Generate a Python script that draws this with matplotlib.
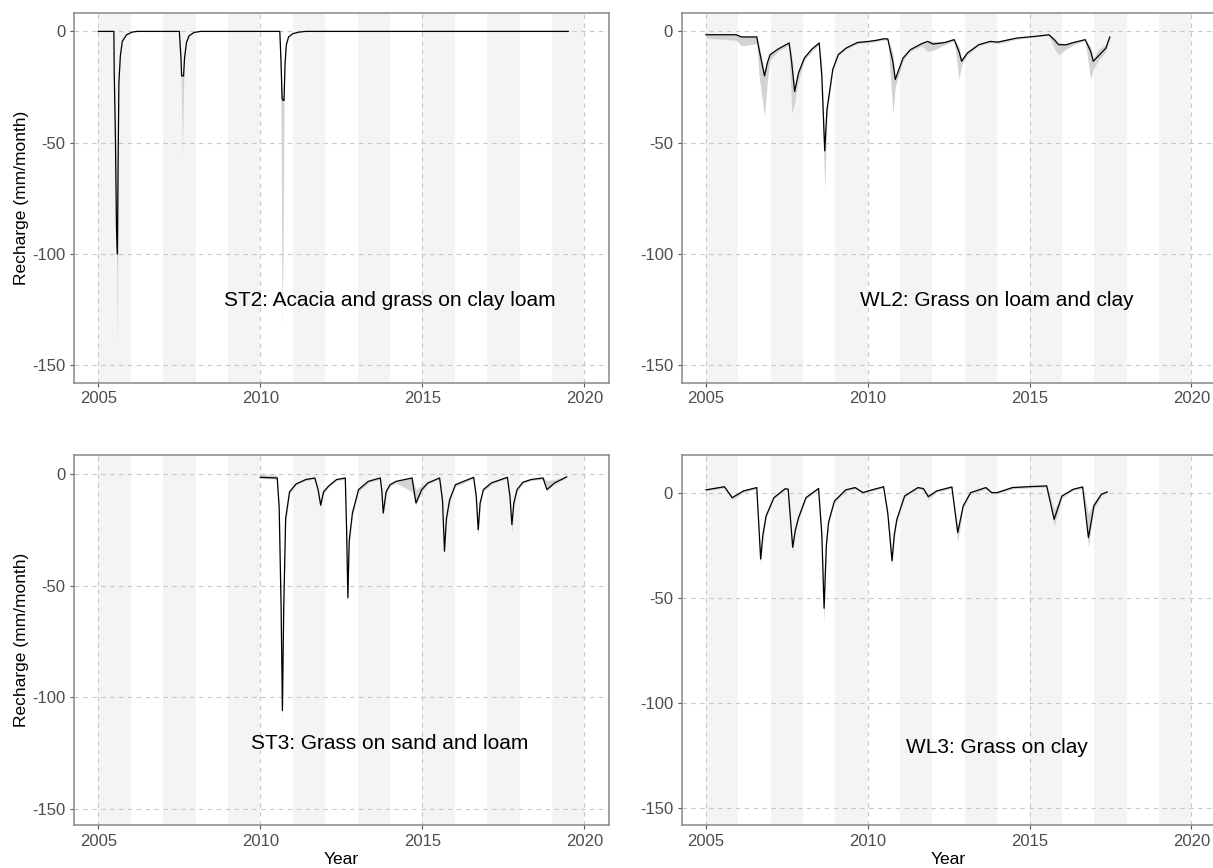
import matplotlib
matplotlib.use("Agg")
import matplotlib.pyplot as plt

plt.rcParams['font.family'] = ['Liberation Sans', 'DejaVu Sans']
plt.rcParams['axes.unicode_minus'] = False

# ---------------- data ----------------
x_ticks = [2005, 2010, 2015, 2020]
y_ticks = [0, -50, -100, -150]
y_tick_labels = ["0", "-50", "-100", "-150"]
band_starts = [2005, 2007, 2009, 2011, 2013, 2015, 2017, 2019]

titles = ["ST2: Acacia and grass on clay loam", "WL2: Grass on loam and clay",
          "ST3: Grass on sand and loam", "WL3: Grass on clay"]

# ST2
st2_year = [2005.00, 2005.48, 2005.49, 2005.53, 2005.56, 2005.59, 2005.61, 2005.635, 2005.68, 2005.74,
            2005.87, 2006.05, 2006.20,
            2007.50, 2007.55, 2007.57, 2007.59, 2007.63, 2007.66, 2007.72, 2007.80, 2007.95, 2008.15,
            2010.60, 2010.64, 2010.67, 2010.70, 2010.73, 2010.76, 2010.80, 2010.87, 2011.00, 2011.20,
            2011.40, 2019.50]
st2_med = [0, 0, -17, -50, -88, -100, -60, -23, -11, -4.5, -1.5, -0.3, 0,
           0, -12, -20, -20, -20, -12, -5, -2, -0.5, 0,
           0, -15, -30, -31, -31, -15, -6, -2.5, -1, -0.3, 0, 0]
st2_low = [0, 0, -17, -60, -100, -141, -65, -25, -11.5, -4.6, -1.5, -0.3, 0,
           0, -14, -35, -57, -25, -13, -5.2, -2, -0.5, 0,
           0, -45, -133, -100, -35, -16, -6.2, -2.6, -1, -0.3, 0, 0]
st2_high = [0, 0, -15, -45, -80, -88, -55, -20, -10, -4, -1.3, -0.2, 0,
            0, -10, -18, -19, -19, -10, -4.5, -1.8, -0.4, 0,
            0, -12, -28, -29, -29, -13, -5.5, -2.3, -0.9, -0.2, 0, 0]

# WL2
wl2_year = [2005.00, 2005.93, 2006.10, 2006.57, 2006.64, 2006.81, 2006.90, 2006.98, 2007.22, 2007.57,
            2007.65, 2007.74, 2007.86, 2008.04, 2008.27, 2008.50, 2008.58, 2008.67, 2008.74, 2008.80,
            2008.92, 2009.09, 2009.33, 2009.68, 2010.03, 2010.27, 2010.50, 2010.62, 2010.78, 2010.85,
            2011.09, 2011.32, 2011.67, 2011.85, 2012.02, 2012.38, 2012.67, 2012.82, 2012.90, 2013.08,
            2013.43, 2013.78, 2014.02, 2014.60, 2015.19, 2015.60, 2015.78, 2015.90, 2016.13, 2016.36,
            2016.72, 2016.89, 2016.97, 2017.13, 2017.36, 2017.48]
wl2_med = [-1.5, -1.5, -2.5, -2.5, -8, -20, -14, -10.5, -8, -5.2,
           -14, -27, -18.7, -12, -8, -5.2, -20, -53.7, -35, -29,
           -17, -10.4, -7.5, -5, -4.5, -4, -3.3, -3.4, -14, -21.6,
           -12, -8.2, -5.5, -4.5, -5.7, -5, -3.7, -9, -13.4, -9.7,
           -6, -4.5, -4.8, -3, -2.2, -1.5, -4, -6, -6, -5,
           -3.7, -9, -13.4, -11, -7.5, -2.5]
wl2_low = [-3, -4, -6.5, -5.5, -20, -38, -22, -13, -9, -6,
           -37, -32, -22, -13, -9, -6, -25, -71.6, -38, -31,
           -18, -11, -8, -5.5, -5, -4.5, -3.8, -4, -37, -25,
           -13, -9, -6.5, -9, -8.5, -6, -4.2, -21.6, -15, -10.5,
           -6.5, -5, -5.5, -3.5, -2.5, -1.8, -8, -10.5, -8, -6,
           -4.2, -21.6, -17, -13, -9, -3]
wl2_high = [-1, -1.2, -2, -2, -6, -18, -13, -10, -7.5, -5,
            -10, -25, -17, -11, -7.5, -5, -15, -50, -32, -27,
            -16, -10, -7, -4.5, -4, -3.5, -3, -3, -10, -20,
            -11, -7.5, -5, -4, -4.5, -4.5, -3.3, -7, -12, -9,
            -5.5, -4, -4.3, -2.8, -2, -1.3, -3, -5, -5.5, -4.5,
            -3.5, -7, -12, -8, -6, -2.3]

# ST3
st3_year = [2010.00, 2010.52, 2010.58, 2010.64, 2010.68, 2010.72, 2010.78, 2010.90, 2011.10, 2011.40,
            2011.68, 2011.78, 2011.86, 2011.95, 2012.10, 2012.35, 2012.62, 2012.66, 2012.70, 2012.74,
            2012.84, 2013.03, 2013.33, 2013.70, 2013.75, 2013.79, 2013.88, 2014.00, 2014.19, 2014.68,
            2014.80, 2014.98, 2015.17, 2015.53, 2015.62, 2015.68, 2015.74, 2015.84, 2016.02, 2016.27,
            2016.58, 2016.66, 2016.72, 2016.78, 2016.88, 2017.13, 2017.62, 2017.70, 2017.76, 2017.82,
            2017.92, 2018.10, 2018.35, 2018.72, 2018.84, 2019.08, 2019.45]
st3_med = [-1.5, -1.8, -15, -60, -106, -60, -20, -8, -4.5, -2.5,
           -1.8, -7, -14, -8, -5.5, -2.5, -1.8, -25, -55.5, -30,
           -17.5, -7, -3.3, -1.8, -8, -17.5, -8, -4.8, -3.3, -1.8,
           -13, -7, -4, -1.8, -12, -34.6, -20, -11.5, -4.8, -3.3,
           -1.5, -10, -25, -13, -7, -4, -1.5, -10, -22.7, -13,
           -7, -3.7, -2.5, -1.8, -7, -4, -1.3]
st3_low = [-2, -2.3, -17, -65, -111.5, -64, -22, -9, -5, -3,
           -2.3, -8, -15, -9, -6, -3, -2.3, -28, -57, -32,
           -19, -8, -4, -2.3, -9, -19, -9, -5.5, -4, -8,
           -14, -8, -4.5, -2.3, -14, -36, -22, -12.5, -5.5, -4,
           -2, -12, -28, -15, -8, -4.5, -2, -12, -27, -15,
           -8, -4.2, -3, -2.3, -7.5, -4.5, -1.7]
st3_high = [-0.2, -0.5, -13, -55, -100, -55, -18, -7.5, -4, -2.2,
            -1.5, -6, -12, -7, -5, -2.2, -1.5, -22, -52, -28,
            -16, -6.5, -3, -1.5, -7, -16, -7, -4.5, -3, -1.5,
            -7, -5, -3.5, -1.5, -10, -33, -18, -10.5, -4.5, -3,
            -1.2, -8, -23, -12, -6.5, -3.5, -1.2, -8, -21, -12,
            -6.5, -3.3, -2.2, -1.3, -3, -2.5, -1.0]

# WL3
wl3_year = [2005.00, 2005.57, 2005.81, 2006.16, 2006.57, 2006.69, 2006.76, 2006.86, 2007.10, 2007.45,
            2007.54, 2007.68, 2007.76, 2007.86, 2008.09, 2008.48, 2008.58, 2008.65, 2008.72, 2008.79,
            2008.97, 2009.32, 2009.61, 2009.85, 2010.08, 2010.49, 2010.62, 2010.75, 2010.82, 2010.90,
            2011.14, 2011.55, 2011.72, 2011.87, 2012.13, 2012.60, 2012.78, 2012.95, 2013.18, 2013.65,
            2013.83, 2014.00, 2014.47, 2014.94, 2015.53, 2015.76, 2016.00, 2016.35, 2016.64, 2016.82,
            2016.99, 2017.22, 2017.40]
wl3_med = [1.3, 2.8, -2.4, 0.8, 2.4, -31.6, -20, -11, -2.4, 1.9,
           1.6, -26, -18, -12, -2.4, 2.0, -20, -55, -25, -14,
           -4, 1.3, 2.4, 0, 1.1, 2.8, -10, -32.4, -20, -12.7,
           -1.6, 2.4, 1.9, -1.9, 0.8, 2.7, -19, -6.3, 0, 2.4,
           0, 0, 2.4, 2.8, 3.2, -12.7, -1.6, 1.6, 2.7, -21.4,
           -6.3, -0.8, 0.3]
wl3_low = [0.8, 2.2, -3.5, 0.2, 1.8, -34.5, -22, -12, -3, 1.3,
           1.0, -28, -19, -13, -3, 1.4, -23, -61.7, -27, -15,
           -4.8, 0.7, 1.8, -0.6, 0.5, 2.2, -12, -35, -22, -14,
           -2.2, 1.8, 1.3, -3.3, 0.2, 2.1, -23.4, -7.5, -0.6, 1.8,
           -0.6, -0.6, 1.8, 2.2, 2.6, -16, -2.5, 1.0, 2.1, -26,
           -7.5, -1.3, -0.1]
wl3_high = [1.8, 3.3, -1.8, 1.3, 2.9, -29, -18, -10, -1.8, 2.4,
            2.1, -24, -16, -11, -1.8, 2.5, -17, -50, -22, -13,
            -3.3, 1.8, 2.9, 0.5, 1.6, 3.3, -8, -30, -18, -11.5,
            -1.0, 2.9, 2.4, -0.5, 1.3, 3.2, -16, -5.5, 0.5, 2.9,
            0.5, 0.5, 2.9, 3.3, 3.7, -8, -0.8, 2.1, 3.2, -10,
            -4, -0.3, 0.6]

# ---------------- layout ----------------
W, H = 1213, 868
fig = plt.figure(figsize=(W / 100, H / 100), dpi=100)
fig.patch.set_facecolor("white")

def add_px_axes(left, top, right, bottom):
    return fig.add_axes([left / W, 1 - bottom / H, (right - left) / W, (bottom - top) / H])

panel_boxes = [(74, 12.7, 608.8, 382.7), (681.7, 12.7, 1215.6, 382.7),
               (74, 455, 608.8, 825), (681.7, 455, 1215.6, 825)]
panel_ylims = [(-157.8, 8.4), (-157.8, 8.4), (-157.3, 8.5), (-158.1, 17.9)]
series = [(st2_year, st2_med, st2_low, st2_high),
          (wl2_year, wl2_med, wl2_low, wl2_high),
          (st3_year, st3_med, st3_low, st3_high),
          (wl3_year, wl3_med, wl3_low, wl3_high)]

for i, (box, ylim, (yr, med, lo, hi), title) in enumerate(zip(panel_boxes, panel_ylims, series, titles)):
    ax = add_px_axes(*box)
    ax.set_xlim(2004.25, 2020.75)
    ax.set_ylim(*ylim)
    for b in band_starts:
        ax.axvspan(b, b + 1, color="#F4F4F4", lw=0, zorder=0.2)
    ax.set_axisbelow(True)
    ax.grid(True, color="#C8C8C8", linestyle=(0, (4, 4)), linewidth=0.8, zorder=0.5)
    ax.fill_between(yr, lo, hi, color="#D3D3D3", lw=0, zorder=2)
    ax.plot(yr, med, color="black", lw=0.9, zorder=3)
    ax.text(2014.0, -121, title, ha="center", va="center", fontsize=15, color="black", zorder=4)
    ax.set_xticks(x_ticks)
    ax.set_xticklabels([str(t) for t in x_ticks])
    ax.set_yticks(y_ticks)
    ax.set_yticklabels(y_tick_labels)
    ax.tick_params(axis="both", direction="out", length=3, width=0.8, color="#555555",
                   labelsize=12, labelcolor="#4D4D4D", pad=3.2)
    for s in ax.spines.values():
        s.set_color("#888888")
        s.set_linewidth(1.1)

# axis titles
fig.text(22 / W, 1 - 197.7 / H, "Recharge (mm/month)", rotation=90, ha="center", va="center",
         fontsize=12.5, color="black")
fig.text(22 / W, 1 - 640 / H, "Recharge (mm/month)", rotation=90, ha="center", va="center",
         fontsize=12.5, color="black")
fig.text(341.4 / W, 1 - 860 / H, "Year", ha="center", va="center", fontsize=12.5, color="black")
fig.text(948.6 / W, 1 - 860 / H, "Year", ha="center", va="center", fontsize=12.5, color="black")

fig.savefig("out.png", dpi=100, facecolor="white")
